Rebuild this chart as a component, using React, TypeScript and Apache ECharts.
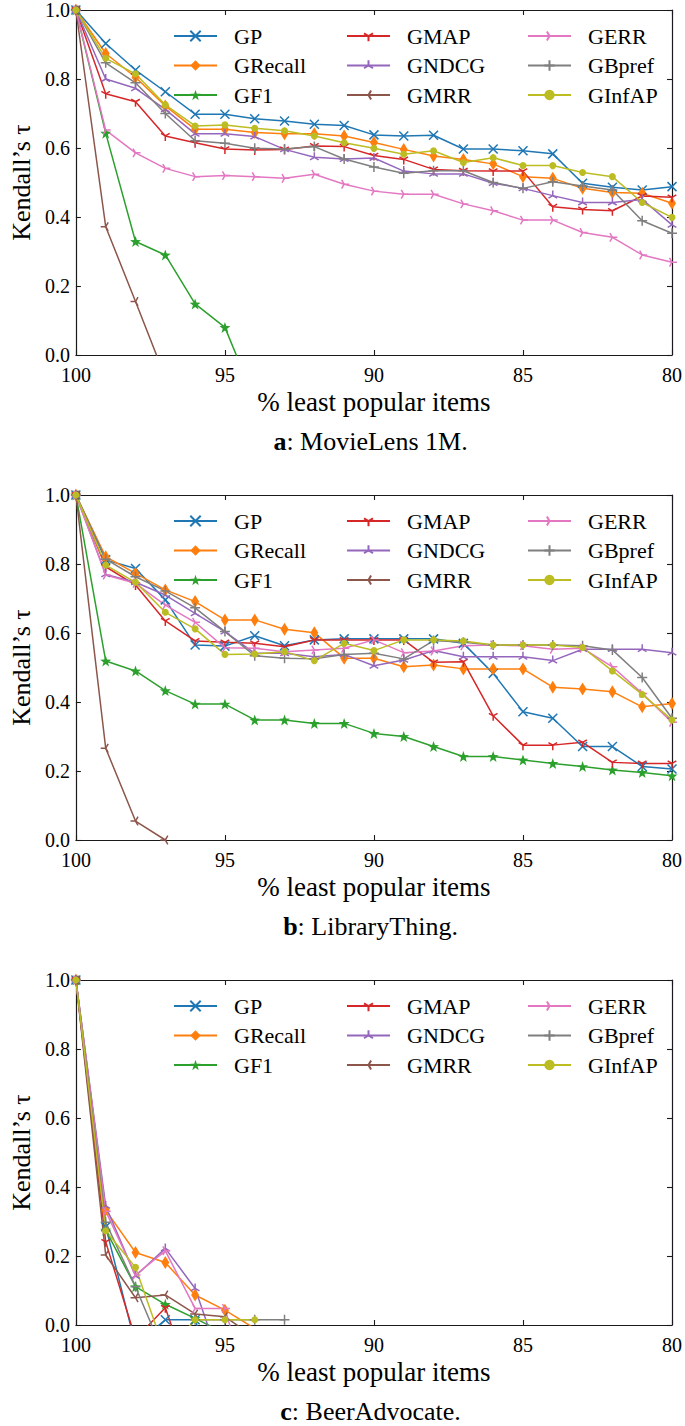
import React, { useEffect, useRef } from "react";
import * as echarts from "echarts";

// ---------- data ----------
const xValues = [100, 99, 98, 97, 96, 95, 94, 93, 92, 91, 90, 89, 88, 87, 86, 85, 84, 83, 82, 81, 80];
const metricNames = ["GP", "GRecall", "GF1", "GMAP", "GNDCG", "GMRR", "GERR", "GBpref", "GInfAP"];
const legendColumns = [
  ["GP", "GRecall", "GF1"],
  ["GMAP", "GNDCG", "GMRR"],
  ["GERR", "GBpref", "GInfAP"],
];
const panelCaptions = [
  { bold: "a", rest: ": MovieLens 1M." },
  { bold: "b", rest: ": LibraryThing." },
  { bold: "c", rest: ": BeerAdvocate." },
];

// MovieLens 1M
const mlGP = [1.0, 0.903, 0.826, 0.763, 0.698, 0.698, 0.685, 0.678, 0.669, 0.665, 0.638, 0.635, 0.637, 0.597, 0.597, 0.592, 0.583, 0.498, 0.486, 0.478, 0.488];
const mlGRecall = [1.0, 0.874, 0.805, 0.722, 0.654, 0.654, 0.645, 0.641, 0.641, 0.635, 0.616, 0.596, 0.577, 0.567, 0.554, 0.517, 0.512, 0.483, 0.471, 0.469, 0.44];
const mlGF1 = [1.0, 0.643, 0.329, 0.29, 0.148, 0.08, -0.13];
const mlGMAP = [1.0, 0.757, 0.734, 0.635, 0.615, 0.597, 0.594, 0.596, 0.606, 0.604, 0.578, 0.567, 0.538, 0.534, 0.533, 0.533, 0.43, 0.422, 0.418, 0.461, 0.457];
const mlGNDCG = [1.0, 0.8, 0.773, 0.712, 0.641, 0.641, 0.633, 0.596, 0.573, 0.568, 0.571, 0.533, 0.525, 0.525, 0.498, 0.483, 0.462, 0.442, 0.442, 0.451, 0.377];
const mlGMRR = [1.0, 0.372, 0.155, -0.065];
const mlGERR = [1.0, 0.652, 0.586, 0.541, 0.517, 0.52, 0.517, 0.512, 0.524, 0.495, 0.475, 0.466, 0.466, 0.438, 0.418, 0.391, 0.391, 0.355, 0.341, 0.29, 0.269];
const mlGBpref = [1.0, 0.847, 0.789, 0.7, 0.621, 0.614, 0.599, 0.597, 0.604, 0.568, 0.545, 0.527, 0.534, 0.534, 0.5, 0.483, 0.502, 0.49, 0.478, 0.389, 0.353];
const mlGInfAP = [1.0, 0.86, 0.815, 0.725, 0.664, 0.667, 0.657, 0.65, 0.635, 0.615, 0.599, 0.582, 0.592, 0.558, 0.572, 0.549, 0.549, 0.529, 0.517, 0.442, 0.399];

// LibraryThing
const ltGP = [1.0, 0.812, 0.787, 0.696, 0.565, 0.562, 0.592, 0.563, 0.58, 0.583, 0.583, 0.583, 0.583, 0.57, 0.483, 0.372, 0.353, 0.271, 0.271, 0.213, 0.206];
const ltGRecall = [1.0, 0.821, 0.773, 0.725, 0.691, 0.638, 0.638, 0.611, 0.601, 0.527, 0.527, 0.502, 0.507, 0.496, 0.496, 0.496, 0.443, 0.438, 0.43, 0.386, 0.396];
const ltGF1 = [1.0, 0.519, 0.49, 0.433, 0.394, 0.394, 0.348, 0.348, 0.338, 0.338, 0.309, 0.3, 0.271, 0.242, 0.242, 0.232, 0.222, 0.213, 0.203, 0.196, 0.186];
const ltGMAP = [1.0, 0.792, 0.739, 0.635, 0.577, 0.573, 0.57, 0.56, 0.58, 0.58, 0.58, 0.58, 0.515, 0.517, 0.36, 0.275, 0.275, 0.283, 0.225, 0.222, 0.222];
const ltGNDCG = [1.0, 0.77, 0.747, 0.71, 0.657, 0.604, 0.541, 0.541, 0.531, 0.538, 0.505, 0.522, 0.549, 0.531, 0.531, 0.531, 0.52, 0.553, 0.553, 0.553, 0.543];
const ltGMRR = [1.0, 0.266, 0.055, 0.0];
const ltGERR = [1.0, 0.768, 0.744, 0.681, 0.631, 0.557, 0.556, 0.546, 0.551, 0.556, 0.58, 0.543, 0.548, 0.563, 0.565, 0.563, 0.553, 0.556, 0.502, 0.425, 0.341];
const ltGBpref = [1.0, 0.814, 0.763, 0.722, 0.673, 0.604, 0.534, 0.527, 0.525, 0.538, 0.541, 0.525, 0.578, 0.573, 0.565, 0.565, 0.565, 0.563, 0.551, 0.471, 0.353];
const ltGInfAP = [1.0, 0.797, 0.747, 0.66, 0.612, 0.538, 0.539, 0.546, 0.52, 0.57, 0.549, 0.58, 0.58, 0.577, 0.565, 0.565, 0.565, 0.558, 0.49, 0.422, 0.348];

// BeerAdvocate
const baGP = [1.0, 0.285, -0.058, 0.015, 0.015, -0.25];
const baGRecall = [1.0, 0.333, 0.21, 0.181, 0.087, 0.043, -0.01, -0.01];
const baGF1 = [1.0, 0.275, 0.111, 0.06, 0.019, -0.024];
const baGMAP = [1.0, 0.241, -0.04, 0.05, -0.2];
const baGNDCG = [1.0, 0.345, 0.142, 0.222, 0.106, -0.146];
const baGMRR = [1.0, 0.203, 0.079, 0.087, 0.032, 0.024, -0.036];
const baGERR = [1.0, 0.33, 0.145, 0.215, 0.048, 0.048, -0.25];
const baGBpref = [1.0, 0.298, 0.111, -0.094, 0.015, 0.015, 0.015, 0.015];
const baGInfAP = [1.0, 0.273, 0.167, -0.08, 0.015, 0.015, 0.015];

const panels = [
  [mlGP, mlGRecall, mlGF1, mlGMAP, mlGNDCG, mlGMRR, mlGERR, mlGBpref, mlGInfAP],
  [ltGP, ltGRecall, ltGF1, ltGMAP, ltGNDCG, ltGMRR, ltGERR, ltGBpref, ltGInfAP],
  [baGP, baGRecall, baGF1, baGMAP, baGNDCG, baGMRR, baGERR, baGBpref, baGInfAP],
];

// ---------- styles ----------
const colors: Record<string, string> = {
  GP: "#1f77b4",
  GRecall: "#ff7f0e",
  GF1: "#2ca02c",
  GMAP: "#d62728",
  GNDCG: "#9467bd",
  GMRR: "#8c564b",
  GERR: "#e377c2",
  GBpref: "#7f7f7f",
  GInfAP: "#bcbd22",
};

const FONT = "'Liberation Serif', 'Times New Roman', serif";

function starPath(): string {
  const pts: string[] = [];
  for (let k = 0; k < 10; k++) {
    const r = k % 2 === 0 ? 1 : 0.4;
    const a = (-90 + 36 * k) * (Math.PI / 180);
    pts.push(`${(r * Math.cos(a)).toFixed(4)},${(r * Math.sin(a)).toFixed(4)}`);
  }
  return "path://M" + pts.join(" L") + " Z";
}

const strokeSymbols: Record<string, string> = {
  GP: "path://M-1,-1 L1,1 M-1,1 L1,-1",
  GBpref: "path://M-1,0 L1,0 M0,-1 L0,1",
  GMAP: "path://M0,0 L0,1 M0,0 L-0.866,-0.5 M0,0 L0.866,-0.5 M0,-1 M-1,0 M1,0",
  GNDCG: "path://M0,0 L0,-1 M0,0 L-0.866,0.5 M0,0 L0.866,0.5 M0,1 M-1,0 M1,0",
  GMRR: "path://M0,0 L-1,0 M0,0 L0.5,-0.866 M0,0 L0.5,0.866 M1,0 M0,-1 M0,1",
  GERR: "path://M0,0 L1,0 M0,0 L-0.5,-0.866 M0,0 L-0.5,0.866 M-1,0 M0,-1 M0,1",
};

function markerFor(name: string) {
  const c = colors[name];
  if (strokeSymbols[name]) {
    return {
      symbol: strokeSymbols[name],
      symbolSize: name === "GP" ? 9 : 10,
      itemStyle: { color: "rgba(0,0,0,0)", borderColor: c, borderWidth: 1.5 },
    };
  }
  if (name === "GRecall") {
    return { symbol: "diamond", symbolSize: [8, 13], itemStyle: { color: c, borderWidth: 0 } };
  }
  if (name === "GF1") {
    return { symbol: starPath(), symbolSize: 11, itemStyle: { color: c, borderWidth: 0 } };
  }
  return { symbol: "circle", symbolSize: 7, itemStyle: { color: c, borderWidth: 0 } };
}

// ---------- layout ----------
const GRID_LEFT = 66;
const GRID_WIDTH = 609;
const GRID_HEIGHT = 345;
const PANEL_TOPS = [10, 495, 980];
const legendLefts = [173, 346, 527];
const AXIS_COLOR = "#1a1a1a";

function buildOption() {
  const grid: any[] = [];
  const xAxis: any[] = [];
  const yAxis: any[] = [];
  const series: any[] = [];
  const legend: any[] = [];
  const graphic: any[] = [];

  const axisLine = { show: true, onZero: false, lineStyle: { color: AXIS_COLOR, width: 1.2 } };
  const axisTick = { show: true, inside: true, length: 5, lineStyle: { color: AXIS_COLOR, width: 1.1 } };
  const labelStyle = { fontFamily: FONT, fontSize: 20, lineHeight: 16, color: "#000" };

  PANEL_TOPS.forEach((top, p) => {
    grid.push({ left: GRID_LEFT, top, width: GRID_WIDTH, height: GRID_HEIGHT, containLabel: false });

    const xBase = { gridIndex: p, type: "value", min: 80, max: 100, interval: 5, inverse: true, splitLine: { show: false }, axisLine, axisTick };
    xAxis.push({
      ...xBase,
      position: "bottom",
      axisLabel: { ...labelStyle, margin: 12, formatter: (v: number) => String(v) },
      name: "% least popular items",
      nameLocation: "middle",
      nameGap: 33,
      nameTextStyle: { fontFamily: FONT, fontSize: 27, color: "#000" },
    });
    xAxis.push({ ...xBase, position: "top", axisLabel: { show: false } });

    const yBase = { gridIndex: p, type: "value", min: 0, max: 1, interval: 0.2, splitLine: { show: false }, axisLine, axisTick };
    yAxis.push({
      ...yBase,
      position: "left",
      axisLabel: { ...labelStyle, margin: 6, formatter: (v: number) => v.toFixed(1) },
      name: "Kendall\u2019s \u03c4",
      nameLocation: "middle",
      nameGap: 39,
      nameTextStyle: { fontFamily: FONT, fontSize: 26, color: "#000" },
    });
    yAxis.push({ ...yBase, position: "right", axisLabel: { show: false } });

    metricNames.forEach((name, m) => {
      const vals = panels[p][m];
      const data = vals.map((v, i) => [xValues[i], v]);
      const mk = markerFor(name);
      series.push({
        type: "line",
        name,
        xAxisIndex: p * 2,
        yAxisIndex: p * 2,
        data,
        clip: true,
        symbol: mk.symbol,
        symbolSize: mk.symbolSize,
        showAllSymbol: true,
        itemStyle: mk.itemStyle,
        lineStyle: { color: colors[name], width: 1.5 },
        emphasis: { disabled: true },
      });
    });

    legendColumns.forEach((col, ci) => {
      legend.push({
        data: col,
        orient: "vertical",
        left: legendLefts[ci],
        top: top + 15,
        padding: 0,
        itemWidth: 43,
        itemHeight: 13,
        itemGap: 7.5,
        selectedMode: false,
        textStyle: { fontFamily: FONT, fontSize: 22, color: "#000", lineHeight: 22, padding: [0, 0, 0, 12] },
      });
    });

    const cap = panelCaptions[p];
    graphic.push({
      type: "text",
      x: GRID_LEFT + GRID_WIDTH / 2,
      y: top + GRID_HEIGHT + 86,
      style: {
        text: `{b|${cap.bold}}${cap.rest}`,
        align: "center",
        verticalAlign: "middle",
        textAlign: "center",
        textVerticalAlign: "middle",
        fontFamily: FONT,
        fontSize: 26,
        fill: "#000",
        rich: { b: { fontFamily: FONT, fontSize: 26, fontWeight: "bold", fill: "#000" } },
      },
    });
  });

  return {
    animation: false,
    backgroundColor: "#ffffff",
    grid,
    xAxis,
    yAxis,
    legend,
    series,
    graphic,
  };
}

export default function App() {
  const ref = useRef<HTMLDivElement>(null);
  useEffect(() => {
    if (!ref.current) return;
    const chart = echarts.init(ref.current, undefined, { renderer: "svg" });
    chart.setOption(buildOption() as any);
    return () => chart.dispose();
  }, []);
  return <div ref={ref} style={{ position: "absolute", left: 0, top: 0, width: 685, height: 1426 }} />;
}
